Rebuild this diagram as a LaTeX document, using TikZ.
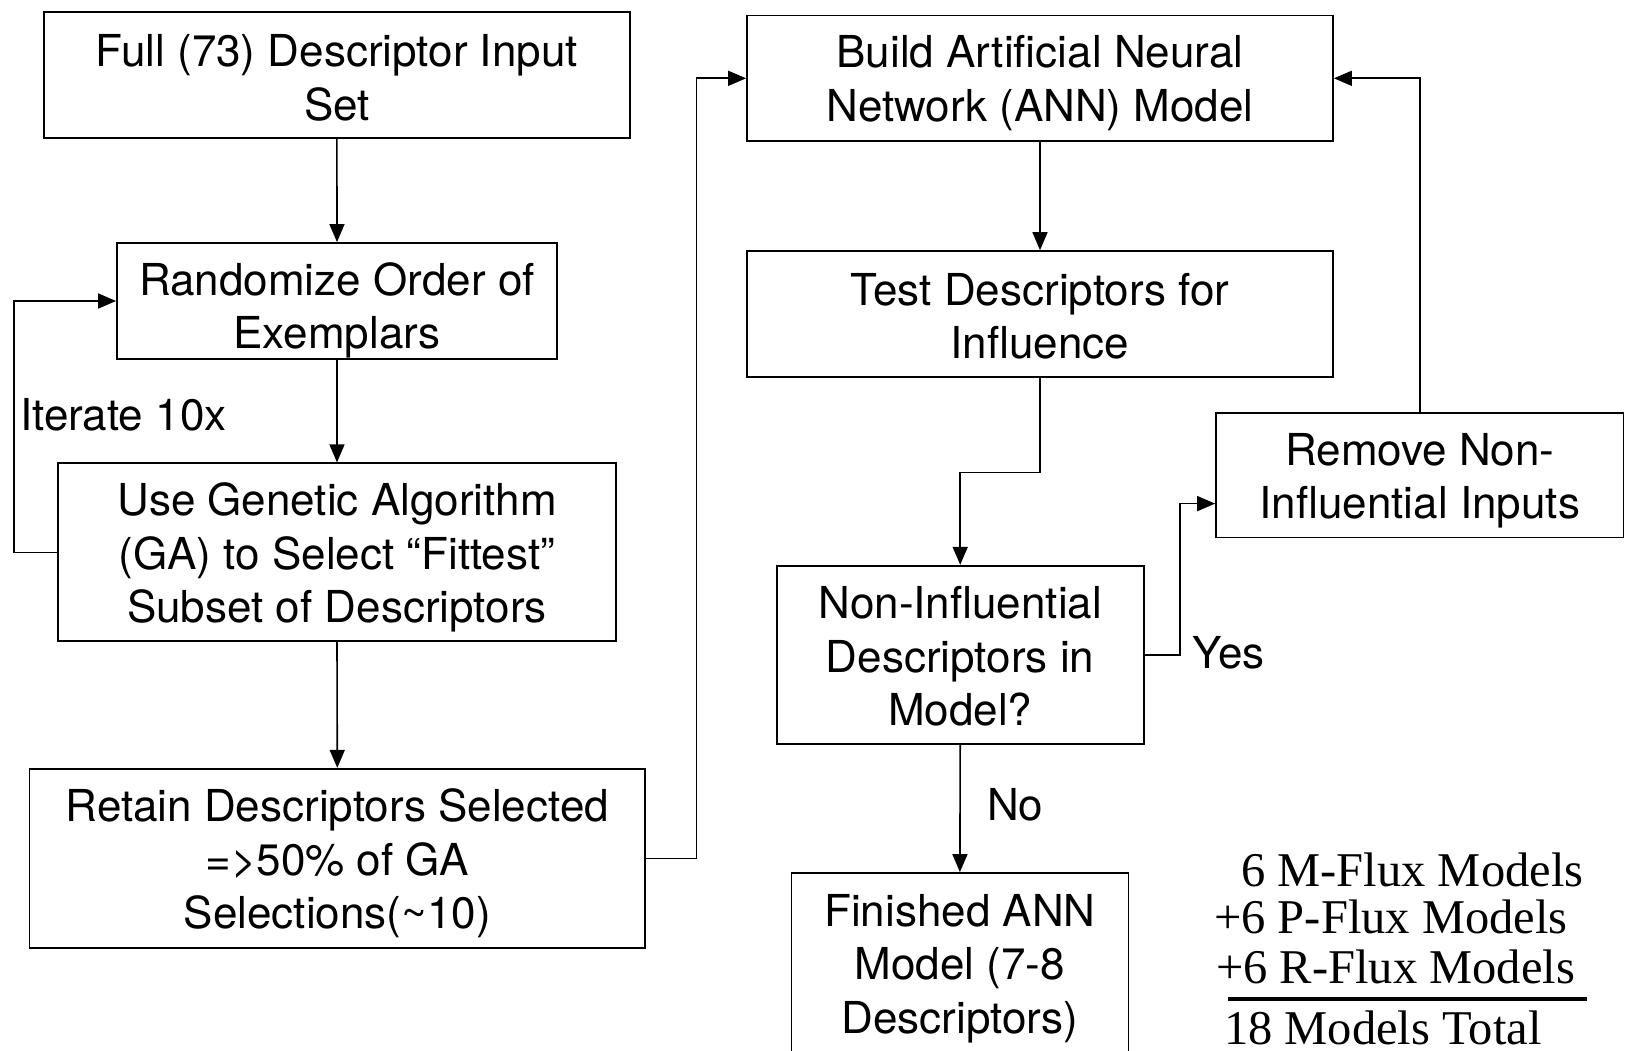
\documentclass[tikz,border=0pt]{standalone}
\usepackage{fontspec}
\setmainfont{TeX Gyre Heros}
\newfontfamily\timesfont{Liberation Serif}
\usetikzlibrary{arrows.meta}
\begin{document}
\begin{tikzpicture}[x=1pt,y=-1pt,
  box/.style={draw,line width=1.8pt,inner sep=0pt},
  btxt/.style={align=center,inner sep=0pt,font=\fontsize{44}{53.5}\selectfont},
  conn/.style={line width=1.6pt},
  arr/.style={conn,-{Triangle[length=18pt,width=15pt]}},
  lbl/.style={inner sep=0pt,anchor=base west,font=\fontsize{44}{53.5}\selectfont},
  tot/.style={inner sep=0pt,anchor=base west,font=\timesfont\fontsize{48.5}{48.5}\selectfont}]
\useasboundingbox (0,0) rectangle (1625,1051);
\fill[white] (0,0) rectangle (1625,1051);
\node[box,minimum width=586.3pt,minimum height=125.7pt,
  label={[btxt,yshift=-2.6pt]center:{Full (73) Descriptor Input\\Set}}] (b1) at (336.9,75.2) {};
\node[box,minimum width=440pt,minimum height=116pt,
  label={[btxt,yshift=-9.3pt]center:{Randomize Order of\\Exemplars}}] (b2) at (337,301) {};
\node[box,minimum width=558pt,minimum height=178pt,
  label={[btxt,yshift=-5.5pt]center:{Use Genetic Algorithm\\(GA) to Select “Fittest”\\Subset of Descriptors}}] (b3) at (337,552.3) {};
\node[box,minimum width=615.5pt,minimum height=179.3pt,
  label={[btxt,yshift=-5pt]center:{Retain Descriptors Selected\\=>50\% of GA\\Selections(\textasciitilde10)}}] (b4) at (337.3,858.4) {};
\node[box,minimum width=586pt,minimum height=125.5pt,
  label={[btxt,yshift=-5pt]center:{Build Artificial Neural\\Network (ANN) Model}}] (b5) at (1040,78.3) {};
\node[box,minimum width=586pt,minimum height=125.8pt,
  label={[btxt,yshift=-2pt]center:{Test Descriptors for\\Influence}}] (b6) at (1040,314) {};
\node[box,minimum width=367pt,minimum height=178.3pt,
  label={[btxt,yshift=-1.5pt]center:{Non-Influential\\Descriptors in\\Model?}}] (b7) at (960.2,654.9) {};
\node[box,minimum width=407.5pt,minimum height=124.5pt,
  label={[btxt,yshift=-5.5pt]center:{Remove Non-\\Influential Inputs}}] (b8) at (1419.8,475.3) {};
\node[box,minimum width=337pt,minimum height=182pt,
  label={[btxt,yshift=-4.5pt]center:{Finished ANN\\Model (7-8\\Descriptors)}}] (b9) at (959.9,964) {};

\node[lbl] (iter) at (20,430) {Iterate 10x};
\node[lbl] (yes) at (1192.6,668) {Yes};
\node[lbl] (no) at (987,820) {No};

\draw[arr] (b1.south) -- (b2.north);
\draw[arr] (b2.south) -- (b3.north);
\draw[arr] (b3.south) -- (b4.north);
\draw[arr] (b3.west) -- ++(-43.3,0) |- (b2.west);
\draw[arr] (b4.east) -- ++(50.5,0) |- (b5.west);
\draw[arr] (b5.south) -- (b6.north);
\draw[arr] (b6.south) -- ++(0,94.5) -| (b7.north);
\draw[arr] (b7.east) -- ++(35.4,0) |- ([yshift=-28.3pt]b8.west);
\draw[arr] (b8.north) |- (b5.east);
\draw[arr] (b7.south) -- (b9.north);

\node[tot] (t1) at (1241,886) {6 M-Flux Models};
\node[tot] (t2) at (1214,933) {+6 P-Flux Models};
\node[tot] (t3) at (1216,983) {+6 R-Flux Models};
\node[tot] (t4) at (1224,1044) {18 Models Total};
\coordinate (rl) at (1228,999);
\coordinate (rr) at (1587,999);
\draw[line width=3.3pt] (rl) -- (rr);
\end{tikzpicture}
\end{document}
